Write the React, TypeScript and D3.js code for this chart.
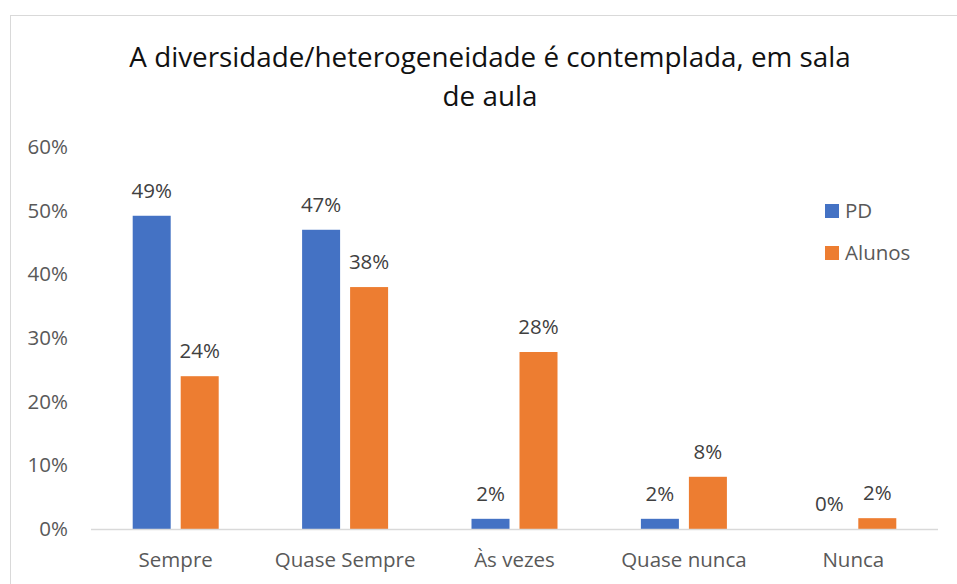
import { scaleBand, scaleLinear } from "d3";

const categories = ["Sempre", "Quase Sempre", "Às vezes", "Quase nunca", "Nunca"];
const pdValues = [49.2, 47, 1.6, 1.6, 0];
const alunosValues = [24, 38, 27.8, 8.2, 1.7];
const yTicks = [0, 10, 20, 30, 40, 50, 60];
const seriesNames = ["PD", "Alunos"];
const seriesColors = ["#4472c4", "#ed7d31"];

export default function App() {
  const width = 957;
  const height = 584;
  const left = 91;
  const right = 938;
  const top = 147;
  const bottom = 529;
  const font = "'Open Sans', 'Noto Sans', sans-serif";

  const x = scaleBand<string>().domain(categories).range([left, right]);
  const y = scaleLinear().domain([0, 60]).range([bottom, top]);
  const barWidth = 38;
  const gap = 10;
  const series = [pdValues, alunosValues];

  return (
    <svg
      width={width}
      height={height}
      style={{ position: "fixed", left: 0, top: 0, background: "#fff" }}
      fontFamily={font}
    >
      <rect x={10.5} y={15.5} width={960} height={600} fill="#fff" stroke="#d9d9d9" />

      <text x={490} y={67} textAnchor="middle" fontSize={27.8} fill="#111">
        A diversidade/heterogeneidade é contemplada, em sala
      </text>
      <text x={490} y={106} textAnchor="middle" fontSize={27.8} fill="#111">
        de aula
      </text>

      {yTicks.map((t) => (
        <text key={t} x={68} y={y(t) + 7} textAnchor="end" fontSize={20.5} fill="#595959">
          {t}%
        </text>
      ))}

      {series.map((vals, si) =>
        vals.map((v, i) => {
          const cx = (x(categories[i]) ?? 0) + x.bandwidth() / 2;
          const bx = si === 0 ? cx - gap / 2 - barWidth : cx + gap / 2;
          return (
            <g key={`${si}-${i}`}>
              {v > 0 ? (
                <rect x={bx} y={y(v)} width={barWidth} height={bottom - y(v)} fill={seriesColors[si]} />
              ) : null}
              <text
                x={bx + barWidth / 2}
                y={y(v) - 18}
                textAnchor="middle"
                fontSize={20.5}
                fill="#404040"
              >
                {Math.round(v)}%
              </text>
            </g>
          );
        })
      )}

      <line x1={left} x2={right} y1={bottom + 0.5} y2={bottom + 0.5} stroke="#d9d9d9" strokeWidth={1.5} />

      {categories.map((c) => (
        <text
          key={c}
          x={(x(c) ?? 0) + x.bandwidth() / 2}
          y={567}
          textAnchor="middle"
          fontSize={20.5}
          fill="#595959"
        >
          {c}
        </text>
      ))}

      {seriesNames.map((name, i) => (
        <g key={name}>
          <rect x={825} y={204 + i * 42} width={14} height={14} fill={seriesColors[i]} />
          <text x={845} y={218 + i * 42} fontSize={20.5} fill="#595959">
            {name}
          </text>
        </g>
      ))}
    </svg>
  );
}
